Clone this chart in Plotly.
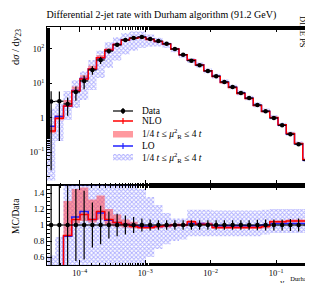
import numpy as np
import plotly.graph_objects as go

# ---------------- data ----------------
log_lo, log_step, nbins = -4.5, 0.126, 32
edges = [10 ** (log_lo + log_step * i) for i in range(nbins + 1)]

data_log10 = [0.47, 0.48, 0.40, 0.75, 1.07, 1.39, 1.68, 1.94, 2.12, 2.26, 2.32, 2.35, 2.29, 2.23, 2.15, 2.00,
              1.83, 1.66, 1.53, 1.36, 1.21, 1.04, 0.89, 0.72, 0.57, 0.37, 0.19, -0.01, -0.22, -0.48, -0.77, -1.24]
data_relerr = [0.99, 0.93, 0.55, 0.45, 0.43, 0.28, 0.24, 0.17, 0.14, 0.12, 0.10, 0.08, 0.07, 0.06, 0.06, 0.06,
               0.06, 0.06, 0.06, 0.06, 0.06, 0.06, 0.06, 0.06, 0.06, 0.065, 0.07, 0.07, 0.07, 0.075, 0.08, 0.19]

nlo_ratio = [0.14, 0.32, 0.87, 1.07, 1.13, 1.07, 1.17, 1.07, 1.03, 1.01, 0.98, 0.97, 0.97, 0.98, 0.99, 1.00,
             1.00, 1.04, 1.01, 1.01, 0.97, 0.97, 0.97, 0.97, 0.97, 0.97, 0.98, 1.04, 1.04, 1.05, 1.05, 1.05]
nlo_band_lo = [0.12, 0.28, 0.86, 1.02, 1.05, 1.03, 1.07, 1.00, 0.98, 0.97, 0.96, 0.95, 0.95, 0.96, 0.97, 0.98,
               0.98, 1.02, 0.99, 0.99, 0.95, 0.95, 0.95, 0.95, 0.95, 0.95, 0.96, 1.02, 1.02, 1.03, 1.03, 1.03]
nlo_band_hi = [0.18, 0.40, 1.30, 1.45, 1.47, 1.32, 1.37, 1.20, 1.13, 1.07, 1.04, 1.00, 0.99, 1.00, 1.01, 1.02,
               1.02, 1.06, 1.03, 1.03, 0.99, 0.99, 0.99, 0.99, 0.99, 0.99, 1.00, 1.06, 1.06, 1.07, 1.07, 1.07]

lo_ratio = [0.19, 0.36, 0.86, 1.10, 1.17, 1.07, 1.15, 1.06, 1.03, 1.01, 0.99, 0.98, 0.98, 0.98, 0.99, 1.00,
            1.00, 1.02, 1.02, 1.01, 0.99, 0.99, 0.99, 0.99, 0.99, 0.99, 1.00, 1.02, 1.02, 1.02, 1.02, 1.02]
lo_band_lo = [0.005, 0.07, 0.34, 0.34, 0.28, 0.26, 0.30, 0.32, 0.35, 0.38, 0.42, 0.48, 0.60, 0.70, 0.76, 0.80,
              0.82, 0.86, 0.86, 0.86, 0.86, 0.86, 0.86, 0.86, 0.86, 0.86, 0.88, 0.90, 0.90, 0.90, 0.90, 0.90]
lo_band_hi = [0.62, 0.85, 2.40, 2.20, 1.95, 1.95, 1.90, 1.80, 1.70, 1.60, 1.55, 1.45, 1.35, 1.25, 1.15, 1.08,
              1.08, 1.19, 1.19, 1.19, 1.18, 1.18, 1.18, 1.18, 1.18, 1.18, 1.19, 1.20, 1.20, 1.20, 1.20, 1.20]

x_tickvals = [1e-4, 1e-3, 1e-2, 1e-1]
x_ticktext = ["10<sup>−4</sup>", "10<sup>−3</sup>", "10<sup>−2</sup>", "10<sup>−1</sup>"]
y_tickvals = [0.1, 1, 10, 100]
y_ticktext = ["10<sup>−1</sup>", "1", "10<sup>1</sup>", "10<sup>2</sup>"]
r_tickvals = [0.6, 0.8, 1.0, 1.2, 1.4]
r_ticktext = ["0.6", "0.8", "1", "1.2", "1.4"]

# ---------------- derived ----------------
edges = np.array(edges)
centers = np.sqrt(edges[:-1] * edges[1:])
data = 10 ** np.array(data_log10)
derr = data * np.array(data_relerr)

def step(vals):
    v = list(vals)
    return list(edges), v + [v[-1]]

FONT = "Liberation Serif"
RED = "#ff0000"
BLUE = "#2020ff"
BAND_RED = "rgba(255,70,80,0.55)"
PAT = dict(shape="x", fgcolor="rgba(70,70,255,0.85)", bgcolor="rgba(0,0,0,0)", size=3, solidity=0.55)

# plot area in pixels (for paper-coordinate text placement)
PL, PR, PT, PB = 39, 303, 19, 257
def px(x): return (x - PL) / (PR - PL)
def py(y): return (PB - y) / (PB - PT)

fig = go.Figure()

def band(lo, hi, xa, ya, scale, fillcolor=None, pattern=None):
    xs, ylo = step(np.array(lo) * scale)
    _, yhi = step(np.array(hi) * scale)
    fig.add_trace(go.Scatter(x=xs, y=ylo, mode="lines", line=dict(width=0, shape="hv"),
                             xaxis=xa, yaxis=ya, showlegend=False, hoverinfo="skip"))
    kw = dict(fillcolor=fillcolor) if fillcolor else dict(fillpattern=pattern, fillcolor="rgba(0,0,0,0)")
    fig.add_trace(go.Scatter(x=xs, y=yhi, mode="lines", line=dict(width=0, shape="hv"), fill="tonexty",
                             xaxis=xa, yaxis=ya, showlegend=False, hoverinfo="skip", **kw))

def line(vals, color, xa, ya):
    xs, ys = step(vals)
    fig.add_trace(go.Scatter(x=xs, y=ys, mode="lines", line=dict(color=color, width=1.5, shape="hv"),
                             xaxis=xa, yaxis=ya, showlegend=False, hoverinfo="skip"))

def datapts(y, err, xa, ya):
    fig.add_trace(go.Scatter(
        x=centers, y=y, mode="markers", marker=dict(color="black", size=4.5),
        error_y=dict(type="data", array=err, color="black", thickness=1.2, width=0),
        error_x=dict(type="data", array=edges[1:] - centers, arrayminus=centers - edges[:-1],
                     color="black", thickness=1.2, width=0),
        xaxis=xa, yaxis=ya, showlegend=False, hoverinfo="skip"))

# main panel
band(lo_band_lo, lo_band_hi, "x", "y", data, pattern=PAT)
band(nlo_band_lo, nlo_band_hi, "x", "y", data, fillcolor=BAND_RED)
line(data * np.array(lo_ratio), BLUE, "x", "y")
line(data * np.array(nlo_ratio), RED, "x", "y")
datapts(data, derr, "x", "y")

# ratio panel
band(lo_band_lo, lo_band_hi, "x2", "y2", 1.0, pattern=PAT)
band(nlo_band_lo, nlo_band_hi, "x2", "y2", 1.0, fillcolor=BAND_RED)
line(lo_ratio, BLUE, "x2", "y2")
line(nlo_ratio, RED, "x2", "y2")
datapts(np.ones(nbins), np.array(data_relerr), "x2", "y2")

# ---------------- legend (drawn on a pixel-coordinate helper axis) ----------------
lx0, lx1, lxt = 105, 125, 132
leg_y = {"data": 103, "nlo": 113, "nloband": 126, "lo": 138, "loband": 149}
def lkey(xs, ys, **kw):
    fig.add_trace(go.Scatter(x=xs, y=ys, xaxis="x3", yaxis="y3", showlegend=False, hoverinfo="skip",
                             cliponaxis=False, **kw))

lkey([lx0, lx1], [leg_y["data"]] * 2, mode="lines", line=dict(color="black", width=1.2))
lkey([115], [leg_y["data"]], mode="markers", marker=dict(color="black", size=4.5),
     error_y=dict(type="constant", value=3, color="black", thickness=1.2, width=0))
lkey([lx0, lx1], [leg_y["nlo"]] * 2, mode="lines", line=dict(color=RED, width=1.5))
lkey([115], [leg_y["nlo"]], mode="markers", marker=dict(size=0.1, color=RED),
     error_y=dict(type="constant", value=3, color=RED, thickness=1.2, width=0))
lkey([lx0, lx1, lx1, lx0, lx0], [123, 123, 129.5, 129.5, 123], mode="lines", line=dict(width=0),
     fill="toself", fillcolor=BAND_RED)
lkey([lx0, lx1], [leg_y["lo"]] * 2, mode="lines", line=dict(color=BLUE, width=1.5))
lkey([115], [leg_y["lo"]], mode="markers", marker=dict(size=0.1, color=BLUE),
     error_y=dict(type="constant", value=3, color=BLUE, thickness=1.2, width=0))
lkey([lx0, lx1, lx1, lx0, lx0], [146, 146, 152.5, 152.5, 146], mode="lines", line=dict(width=0),
     fill="toself", fillpattern=PAT, fillcolor="rgba(0,0,0,0)")

band_txt = "1/4 <i>t</i> ≤ <i>μ</i><sup>2</sup><sub>R</sub> ≤ 4 <i>t</i>"
leg_txt = {"data": "Data", "nlo": "NLO", "nloband": band_txt, "lo": "LO", "loband": band_txt}
annotations = []
for k, t in leg_txt.items():
    annotations.append(dict(x=px(lxt), y=py(leg_y[k]), xref="paper", yref="paper", text=t, showarrow=False,
                            xanchor="left", yanchor="middle", font=dict(size=9.5, family=FONT, color="black")))

# axis labels & texts
annotations += [
    dict(x=px(8), y=py(19), xref="paper", yref="paper", text="d<i>σ</i> / d<i>y</i><sub>23</sub>",
         textangle=-90, showarrow=False, xanchor="center", yanchor="top",
         font=dict(size=10.5, family=FONT, color="black")),
    dict(x=px(8), y=py(208), xref="paper", yref="paper", text="MC/Data", textangle=-90,
         showarrow=False, xanchor="center", yanchor="middle", font=dict(size=9.5, family=FONT, color="black")),
    dict(x=px(306), y=py(273), xref="paper", yref="paper",
         text="<i>y</i><sub>23</sub><sup><span style='font-size:6.5px'>Durham</span></sup>",
         showarrow=False, xanchor="right", yanchor="middle", font=dict(size=9, family=FONT, color="black")),
    dict(x=px(302), y=py(6), xref="paper", yref="paper",
         text="DIRE PS", textangle=89.9,
         showarrow=False, font=dict(size=8.5, family=FONT, color="black")),
]

common_x = dict(type="log", range=[np.log10(edges[0]), np.log10(edges[-1])], showline=True, linecolor="black",
                linewidth=1, mirror="allticks", ticks="inside", ticklen=5, tickcolor="black", showgrid=False,
                zeroline=False, tickvals=x_tickvals, ticktext=x_ticktext,
                minor=dict(ticks="inside", ticklen=2.5, tickcolor="black", showgrid=False),
                tickfont=dict(size=8.5, family=FONT, color="black"))

fig.update_layout(
    width=313, height=283,
    margin=dict(l=PL, r=313 - PR, t=PT, b=283 - PB),
    paper_bgcolor="white", plot_bgcolor="rgba(0,0,0,0)",
    showlegend=False,
    title=dict(text="Differential 2-jet rate with Durham algorithm (91.2 GeV)", x=0.49, xanchor="center",
               y=0.978, yanchor="middle", font=dict(size=10, family=FONT, color="black")),
    xaxis=dict(**common_x, domain=[0, 1], anchor="y", showticklabels=False),
    yaxis=dict(type="log", domain=[0.336, 1], anchor="x", range=[-1.96, 2.64], showline=True,
               linecolor="black", linewidth=1, mirror="allticks", ticks="inside", ticklen=5,
               tickcolor="black", showgrid=False, zeroline=False, tickvals=y_tickvals, ticktext=y_ticktext,
               minor=dict(ticks="inside", ticklen=2.5, tickcolor="black", showgrid=False),
               tickfont=dict(size=8.5, family=FONT, color="black")),
    xaxis2=dict(**common_x, domain=[0, 1], anchor="y2"),
    yaxis2=dict(domain=[0, 0.336], anchor="x2", range=[0.5, 1.5], showline=True, linecolor="black",
                linewidth=1, mirror="allticks", ticks="inside", ticklen=5, tickcolor="black",
                showgrid=False, zeroline=False, tickvals=r_tickvals, ticktext=r_ticktext,
                minor=dict(ticks="inside", ticklen=2.5, tickcolor="black", dtick=0.05, showgrid=False),
                tickfont=dict(size=8.5, family=FONT, color="black")),
    xaxis3=dict(domain=[0, 1], range=[PL, PR], visible=False, anchor="y3"),
    yaxis3=dict(domain=[0, 1], range=[PB, PT], visible=False, anchor="x3"),
    annotations=annotations,
)

fig.write_html("out.html")
